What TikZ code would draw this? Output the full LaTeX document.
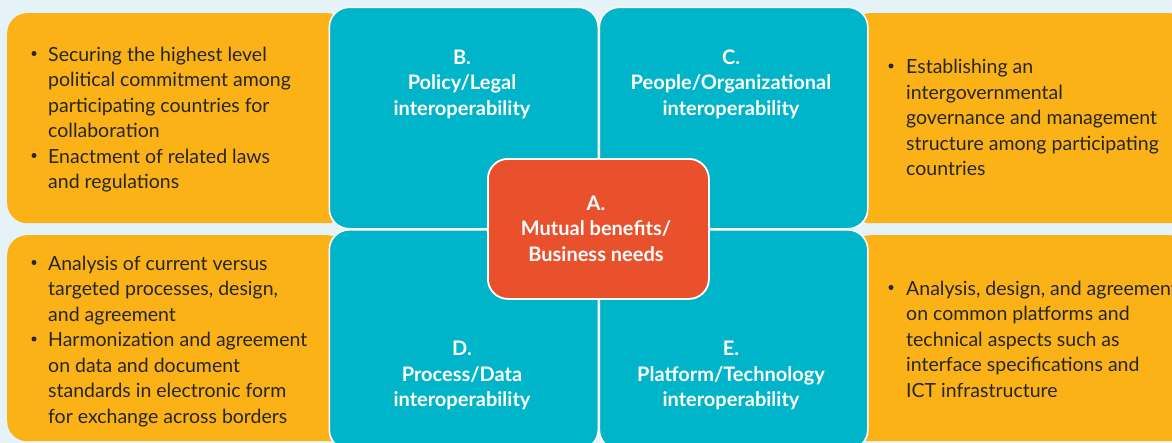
\documentclass[tikz,border=0pt]{standalone}
\usepackage{fontspec}
\setmainfont{Lato}
\definecolor{bgc}{HTML}{E5F2F8}
\definecolor{orng}{HTML}{FBB216}
\definecolor{tealc}{HTML}{00B5C9}
\definecolor{redA}{HTML}{E9512D}
\definecolor{txtc}{HTML}{262626}
\newcommand\leftlines[1]{\vtop{\baselineskip=25.5pt\lineskiplimit=-40pt\halign{##\hfil\cr#1\crcr}}}
\newcommand\midlines[1]{\vtop{\baselineskip=25.5pt\lineskiplimit=-40pt\halign{\hfil##\hfil\cr#1\crcr}}}
\begin{document}
\begin{tikzpicture}[x=1pt,y=-1pt,
  obox/.style={fill=orng, rounded corners=20pt, inner sep=0pt, anchor=north west},
  tbox/.style={fill=tealc, draw=white, line width=1.6pt, rounded corners=20pt, inner sep=0pt, anchor=north west},
  abox/.style={fill=redA, draw=white, line width=1.8pt, rounded corners=20pt, inner sep=0pt, anchor=north west},
  ltext/.style={inner sep=0pt, anchor=base west, text=txtc, font=\fontsize{19.5pt}{25.5pt}\selectfont},
  ttext/.style={inner sep=0pt, anchor=base, text=white, font=\fontsize{20pt}{25.5pt}\selectfont\bfseries},
  bul/.style={circle, fill=txtc, inner sep=0pt, minimum size=5pt}]
\useasboundingbox (0,0) rectangle (1172,442);
\clip (0,0) rectangle (1172,442);
\fill[bgc] (-5,-5) rectangle (1180,450);
% orange side boxes
\node[obox, minimum width=340pt, minimum height=210pt] (PLbox) at (7,13) {};
\node[obox, minimum width=340pt, minimum height=206pt] (PDbox) at (7,235) {};
\node[obox, minimum width=340pt, minimum height=210pt] (PObox) at (850,13) {};
\node[obox, minimum width=340pt, minimum height=206pt] (PTbox) at (850,235) {};
% teal quadrants
\node[tbox, minimum width=269pt, minimum height=221.5pt] (B) at (328.5,6.5) {};
\node[tbox, minimum width=268.5pt, minimum height=221.5pt] (C) at (598.5,6.5) {};
\node[tbox, minimum width=269pt, minimum height=220pt] (D) at (328.5,229) {};
\node[tbox, minimum width=268.5pt, minimum height=220pt] (E) at (598.5,229) {};
% centre
\node[abox, minimum width=221pt, minimum height=140pt] (A) at (487,158) {};
% titles
\node[ttext] (At) at (596,210) {\midlines{A.\cr Mutual benefits/\cr Business needs}};
\node[ttext] (Bt) at (462,64) {\midlines{B.\cr Policy/Legal\cr interoperability}};
\node[ttext] (Ct) at (731,64) {\midlines{C.\cr People/Organizational\cr interoperability}};
\node[ttext] (Dt) at (462,355.5) {\midlines{D.\cr Process/Data\cr interoperability}};
\node[ttext] (Et) at (731,355.5) {\midlines{E.\cr Platform/Technology\cr interoperability}};
% left top
\node[bul] (b1) at (34,53.5) {};
\node[ltext] (PL1) at (48,61) {\leftlines{Securing the highest level\cr political commitment among\cr participating countries for\cr collaboration}};
\node[bul] (b2) at (34,155.5) {};
\node[ltext] (PL2) at (48,163) {\leftlines{Enactment of related laws\cr and regulations}};
% left bottom
\node[bul] (b3) at (34,262.5) {};
\node[ltext] (PD1) at (48,270) {\leftlines{Analysis of current versus\cr targeted processes, design,\cr and agreement}};
\node[bul] (b4) at (34,339) {};
\node[ltext] (PD2) at (48,346.5) {\leftlines{Harmonization and agreement\cr on data and document\cr standards in electronic form\cr for exchange across borders}};
% right top
\node[bul] (b5) at (891,66) {};
\node[ltext] (PO1) at (906,73.5) {\leftlines{Establishing an\cr intergovernmental\cr governance and management\cr structure among participating\cr countries}};
% right bottom
\node[bul] (b6) at (891,287.5) {};
\node[ltext] (PT1) at (906,295) {\leftlines{Analysis, design, and agreement\cr on common platforms and\cr technical aspects such as\cr interface specifications and\cr ICT infrastructure}};
\end{tikzpicture}
\end{document}
